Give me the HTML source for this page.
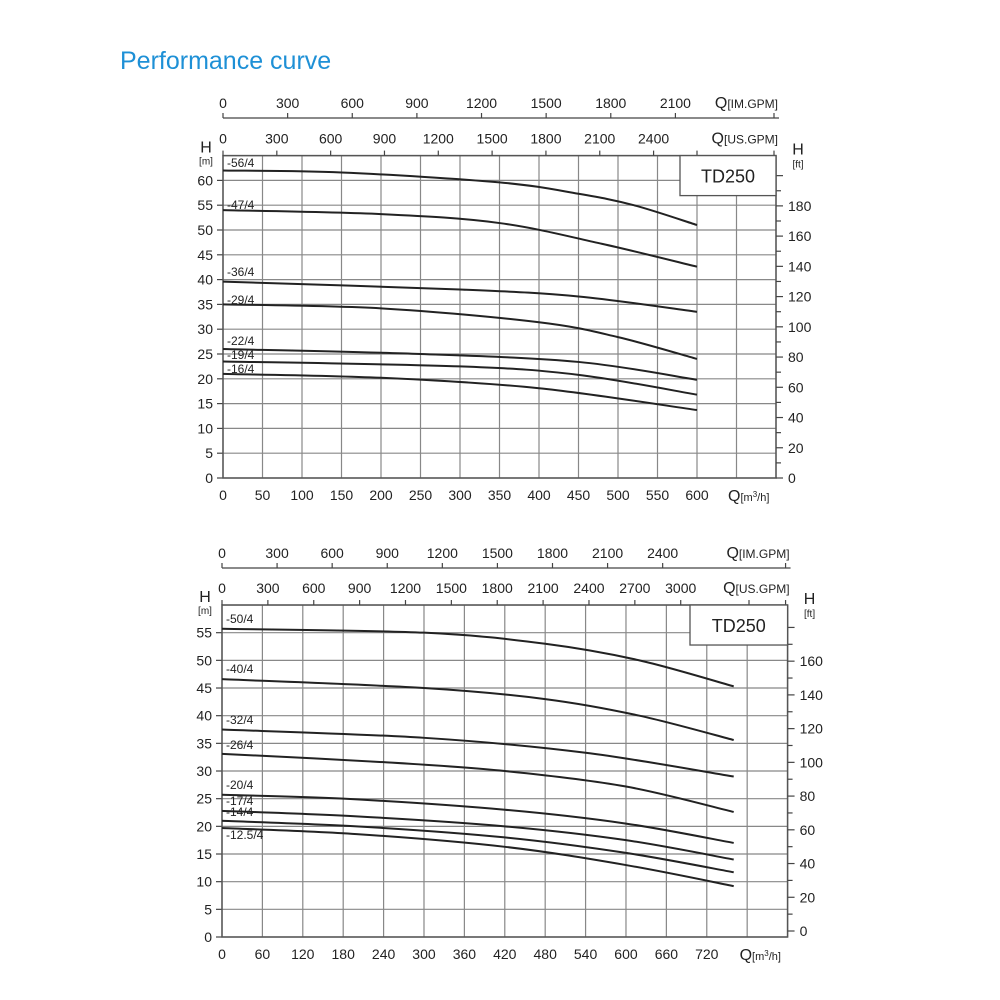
<!DOCTYPE html>
<html><head><meta charset="utf-8"><style>
body{margin:0;background:#fff;width:1000px;height:1000px;overflow:hidden}
svg{position:absolute;left:0;top:0}
text{font-family:"Liberation Sans",Arial,sans-serif;fill:#222}
</style></head><body>
<svg id="s" width="1000" height="1000" xmlns="http://www.w3.org/2000/svg">
<text x="120" y="69" font-size="25" style="fill:#1e90d6">Performance curve</text>
</svg>
<script>
const s=document.getElementById('s');let out='';
function L(x1,y1,x2,y2,c,w){out+=`<line x1="${x1}" y1="${y1}" x2="${x2}" y2="${y2}" stroke="${c}" stroke-width="${w}"/>`;}
function T(x,y,t,fs,a){out+=`<text x="${x}" y="${y}" font-size="${fs}" text-anchor="${a||'middle'}">${t}</text>`;}
function chart(c){
 const X=q=>c.x0+q*c.kx, Y=h=>c.y0-h*c.ky;
 const R=X(c.qmax), Tp=Y(c.hmax);
 for(let q=0;q<=c.qmax+0.1;q+=c.qs){L(X(q),Tp,X(q),c.y0,'#888',1.2);if(q<=c.qlab)T(X(q),c.y0+22,q,14);}
 for(let h=0;h<=c.hmax+0.1;h+=5){L(c.x0,Y(h),R,Y(h),'#888',1.2);if(h<=c.hlab){L(c.x0-6,Y(h),c.x0,Y(h),'#444',1.2);T(c.x0-10,Y(h)+5,h,14,'end');}}
 out+=`<rect x="${c.x0}" y="${Tp}" width="${R-c.x0}" height="${c.y0-Tp}" fill="none" stroke="#555" stroke-width="1.5"/>`;
 T(c.x0-17,Tp-3,'H',16);T(c.x0-17,Tp+9,'[m]',10);
 T(R+22,Tp-1,'H',16);T(R+22,Tp+12,'[ft]',10);
 T(R-48,c.y0+23,'Q<tspan font-size="11">[m<tspan dy="-4" font-size="8">3</tspan><tspan dy="4">/h]</tspan></tspan>',16,'start');
 const fm=0.3048*c.ky;
 for(let f=0;f*fm<c.y0-Tp-20;f+=10){const y=c.y0-c.fo-f*fm;L(R,y,R+(f%20?5:7),y,'#444',1.2);if(f%20==0&&f<=c.flab)T(R+12,y+5,f,14,'start');}
 L(c.x0,c.yim,R+3,c.yim,'#444',1.3);
 for(let g=0;g<=c.imMax;g+=300){const x=c.x0+g*0.2727*c.kx;L(x,c.yim-5,x,c.yim,'#444',1.2);T(x,c.yim-10,g,14);}
 L(R-2,c.yim-5,R-2,c.yim,'#444',1.2);
 T(R+2,c.yim-10,'Q<tspan font-size="12">[IM.GPM]</tspan>',16,'end');
 for(let g=0;g<=c.usMax;g+=300){const x=c.x0+g*0.2271*c.kx;L(x,Tp-5,x,Tp,'#444',1.2);T(x,Tp-12,g,14);}
 L(R-2,Tp-5,R-2,Tp,'#444',1.2);L(c.qxl,Tp-5,c.qxl,Tp,'#444',1.2);
 T(R+2,Tp-12,'Q<tspan font-size="12">[US.GPM]</tspan>',16,'end');
 out+=`<rect x="${c.bx}" y="${Tp}" width="${R-c.bx}" height="40" fill="#fff" stroke="#555" stroke-width="1.3"/>`;
 T((c.bx+R)/2,Tp+27,'TD250',18);
 for(const [lab,pts,ly] of c.curves){
  const n=pts.length;
  const P=pts.map(p=>[X(p[0]),Y(p[1])]);
  let d='M'+P[0].join(',');
  for(let i=0;i<n-1;i++){const p0=P[i-1]||P[i],p1=P[i],p2=P[i+1],p3=P[i+2]||P[i+1];
   d+=` C${p1[0]+(p2[0]-p0[0])/6},${p1[1]+(p2[1]-p0[1])/6} ${p2[0]-(p3[0]-p1[0])/6},${p2[1]-(p3[1]-p1[1])/6} ${p2[0]},${p2[1]}`;}
  out+=`<path d="${d}" fill="none" stroke="#222" stroke-width="2"/>`;
  T(c.x0+4,ly,lab,12,'start');
 }
}
chart({x0:223,y0:478,kx:0.79,ky:4.96,qmax:700,qlab:600,qs:50,hmax:65,hlab:60,flab:180,fo:0,yim:118,imMax:2100,usMax:2400,qxl:697,bx:680,
 curves:[
 ['-56/4',[[0,62],[150,61.6],[350,59.6],[450,57.3],[520,55],[600,51]],167],
 ['-47/4',[[0,54],[200,53.2],[350,51.4],[480,47.2],[600,42.6]],209],
 ['-36/4',[[0,39.6],[300,38],[450,36.6],[600,33.5]],276],
 ['-29/4',[[0,35],[200,34.2],[400,31.4],[500,28.4],[600,24]],304],
 ['-22/4',[[0,26],[250,25],[450,23.4],[600,19.8]],345],
 ['-19/4',[[0,23.5],[300,22.5],[450,20.8],[600,16.8]],359],
 ['-16/4',[[0,21],[200,20.2],[400,18.1],[600,13.7]],373]]});
chart({x0:222,y0:937,kx:0.6733,ky:5.533,qmax:840,qlab:720,qs:60,hmax:60,hlab:55,flab:160,fo:6,yim:568,imMax:2400,usMax:3000,qxl:749,bx:690,
 curves:[
 ['-50/4',[[0,55.7],[300,55],[480,53],[620,50],[760,45.3]],623],
 ['-40/4',[[0,46.6],[300,45],[480,43],[620,40],[760,35.6]],673],
 ['-32/4',[[0,37.5],[300,36],[540,33.3],[760,29]],724],
 ['-26/4',[[0,33.1],[240,31.6],[420,30],[600,27.2],[760,22.6]],749],
 ['-20/4',[[0,25.7],[180,25],[420,23],[600,20.5],[760,17]],789],
 ['-17/4',[[0,22.8],[200,21.8],[420,20],[600,17.5],[760,14]],805],
 ['-14/4',[[0,21],[200,20],[420,18],[600,15.2],[760,11.7]],816],
 ['-12.5/4',[[0,19.7],[200,18.6],[420,16.3],[600,13],[760,9.2]],839]]});
s.insertAdjacentHTML('beforeend',out);
</script>
</body></html>
